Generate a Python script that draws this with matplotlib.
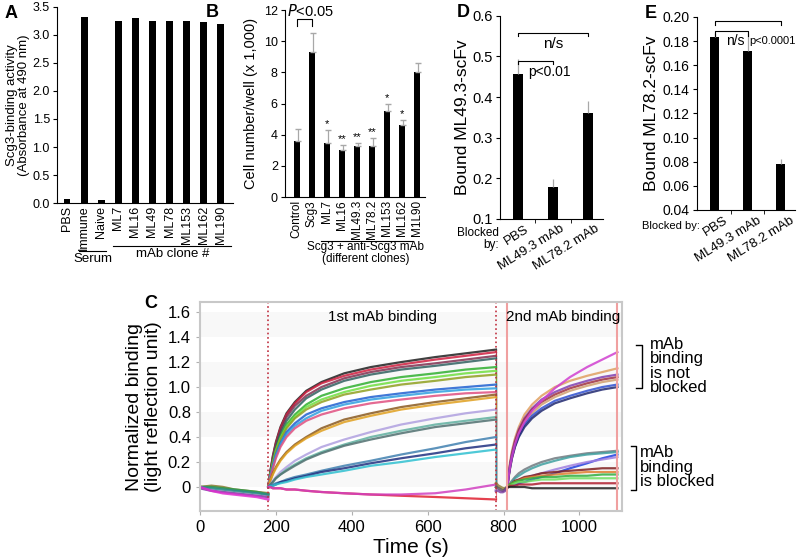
import matplotlib.pyplot as plt
import matplotlib.transforms as mtransforms
import numpy as np

plt.rcParams['font.family'] = ['Liberation Sans', 'DejaVu Sans']

# ---- panel A data
a_labels = ["PBS", "Immune", "Naive", "ML7", "ML16", "ML49", "ML78", "ML153", "ML162", "ML190"]
a_values = [0.07, 3.32, 0.05, 3.25, 3.30, 3.25, 3.25, 3.25, 3.23, 3.20]

# ---- panel B data
b_labels = ["Control", "Scg3", "ML7", "ML16", "ML49.3", "ML78.2", "ML153", "ML162", "M1L90"]
b_values = [3.6, 9.3, 3.5, 3.0, 3.3, 3.25, 5.55, 4.65, 8.0]
b_errors = [0.75, 1.25, 0.8, 0.35, 0.2, 0.55, 0.45, 0.3, 0.6]
b_stars = ["", "", "*", "**", "**", "**", "*", "*", ""]

# ---- panel D data
d_labels = ["PBS", "ML49.3 mAb", "ML78.2 mAb"]
d_values = [0.458, 0.178, 0.36]
d_errors = [0.035, 0.02, 0.03]

# ---- panel E data
e_labels = ["PBS", "ML49.3 mAb", "ML78.2 mAb"]
e_values = [0.183, 0.172, 0.078]
e_errors = [0.004, 0.015, 0.004]

# ---- panel C data (sensorgrams)
c_ticklabels = ["0", "0.2", "0.4", "0.8", "1.0", "1.2", "1.4", "1.6"]

t_base = [0, 30, 60, 90, 120, 150, 180]
base_curves = {
    "#8a7a30": [0, 0.01, 0.0, -0.02, -0.03, -0.04, -0.05],
    "#2f9a4a": [0, 0.0, -0.01, -0.02, -0.03, -0.04, -0.06],
    "#2a8a8a": [0, -0.01, -0.02, -0.03, -0.04, -0.05, -0.06],
    "#7a3aa0": [-0.01, -0.03, -0.04, -0.05, -0.06, -0.07, -0.08],
    "#e030d0": [0, -0.03, -0.05, -0.06, -0.07, -0.08, -0.10],
}

t_first = [180, 185, 192, 200, 212, 228, 250, 280, 320, 380, 450, 530, 620, 700, 780]
first_curves = {
    "#202020": [0, 0.12, 0.25, 0.36, 0.48, 0.59, 0.68, 0.77, 0.84, 0.91, 0.96, 1.00, 1.04, 1.07, 1.10],
    "#d02040": [0, 0.11, 0.24, 0.35, 0.47, 0.58, 0.67, 0.76, 0.83, 0.89, 0.94, 0.98, 1.02, 1.05, 1.08],
    "#803050": [0, 0.11, 0.23, 0.34, 0.45, 0.56, 0.65, 0.73, 0.80, 0.87, 0.92, 0.96, 0.99, 1.02, 1.05],
    "#306060": [0, 0.10, 0.22, 0.32, 0.43, 0.53, 0.62, 0.71, 0.78, 0.85, 0.90, 0.94, 0.97, 1.00, 1.03],
    "#30b030": [0, 0.09, 0.20, 0.30, 0.40, 0.50, 0.58, 0.66, 0.73, 0.79, 0.84, 0.88, 0.91, 0.94, 0.96],
    "#70e040": [0, 0.09, 0.19, 0.29, 0.39, 0.48, 0.56, 0.64, 0.70, 0.76, 0.81, 0.85, 0.88, 0.91, 0.93],
    "#90a020": [0, 0.09, 0.19, 0.28, 0.38, 0.47, 0.55, 0.62, 0.68, 0.74, 0.78, 0.82, 0.85, 0.88, 0.90],
    "#2060d0": [0, 0.08, 0.17, 0.26, 0.35, 0.44, 0.51, 0.58, 0.63, 0.68, 0.72, 0.75, 0.78, 0.80, 0.82],
    "#30a0e0": [0, 0.08, 0.16, 0.25, 0.34, 0.42, 0.49, 0.55, 0.61, 0.66, 0.70, 0.73, 0.76, 0.78, 0.79],
    "#e05080": [0, 0.07, 0.15, 0.23, 0.32, 0.40, 0.47, 0.53, 0.58, 0.63, 0.67, 0.70, 0.73, 0.75, 0.76],
    "#8a5a20": [0, 0.05, 0.11, 0.16, 0.22, 0.28, 0.34, 0.40, 0.47, 0.54, 0.59, 0.64, 0.68, 0.71, 0.74],
    "#e0a020": [0, 0.05, 0.10, 0.15, 0.21, 0.27, 0.33, 0.39, 0.45, 0.52, 0.57, 0.62, 0.66, 0.69, 0.72],
    "#b0a0e0": [0, 0.02, 0.05, 0.08, 0.12, 0.16, 0.21, 0.26, 0.32, 0.38, 0.44, 0.50, 0.55, 0.59, 0.62],
    "#60b0a0": [0, 0.02, 0.04, 0.07, 0.10, 0.14, 0.18, 0.23, 0.28, 0.34, 0.40, 0.45, 0.50, 0.53, 0.56],
    "#507070": [0, 0.02, 0.04, 0.07, 0.10, 0.13, 0.17, 0.22, 0.27, 0.33, 0.38, 0.43, 0.48, 0.51, 0.54],
    "#4080b0": [0, 0.01, 0.02, 0.03, 0.04, 0.06, 0.08, 0.10, 0.13, 0.17, 0.21, 0.26, 0.31, 0.36, 0.40],
    "#203080": [0, 0.01, 0.01, 0.02, 0.04, 0.05, 0.07, 0.09, 0.12, 0.15, 0.19, 0.23, 0.27, 0.31, 0.34],
    "#30c0d0": [0, 0.01, 0.01, 0.02, 0.03, 0.04, 0.06, 0.08, 0.10, 0.13, 0.17, 0.20, 0.24, 0.27, 0.30],
    "#e02030": [0, 0.0, -0.01, -0.01, -0.01, -0.02, -0.02, -0.03, -0.04, -0.05, -0.06, -0.07, -0.08, -0.09, -0.10],
    "#d040c0": [0, 0.0, -0.01, -0.01, -0.01, -0.02, -0.02, -0.03, -0.04, -0.05, -0.06, -0.06, -0.05, -0.02, 0.02],
}

t_wash = [780, 786, 792, 798, 804, 810]
wash_curves = {
    "#8a7a30": [0.03, 0.01, 0.0, -0.01, -0.01, 0.0],
    "#505050": [0.0, -0.01, -0.02, -0.03, -0.02, 0.0],
    "#7a3aa0": [-0.03, -0.03, -0.04, -0.04, -0.03, 0.0],
}

t_second = [810, 813, 817, 822, 830, 840, 855, 875, 900, 935, 975, 1020, 1060, 1100]
second_curves = {
    "#e0a060": [0, 0.10, 0.20, 0.29, 0.39, 0.48, 0.58, 0.66, 0.73, 0.80, 0.85, 0.89, 0.92, 0.95],
    "#8040b0": [0, 0.09, 0.18, 0.27, 0.37, 0.46, 0.55, 0.63, 0.70, 0.76, 0.81, 0.85, 0.88, 0.90],
    "#a03040": [0, 0.09, 0.18, 0.26, 0.36, 0.45, 0.54, 0.62, 0.68, 0.74, 0.79, 0.83, 0.86, 0.88],
    "#d0a070": [0, 0.07, 0.15, 0.23, 0.33, 0.42, 0.51, 0.59, 0.66, 0.72, 0.77, 0.81, 0.84, 0.86],
    "#3050d0": [0, 0.08, 0.16, 0.24, 0.33, 0.41, 0.50, 0.57, 0.63, 0.69, 0.73, 0.77, 0.80, 0.82],
    "#202870": [0, 0.08, 0.15, 0.23, 0.32, 0.40, 0.48, 0.55, 0.61, 0.67, 0.71, 0.75, 0.78, 0.80],
    "#d040d0": [0, 0.08, 0.16, 0.24, 0.34, 0.43, 0.52, 0.61, 0.69, 0.79, 0.88, 0.96, 1.02, 1.08],
    "#707a80": [0, 0.01, 0.03, 0.05, 0.08, 0.11, 0.14, 0.17, 0.20, 0.23, 0.25, 0.27, 0.28, 0.29],
    "#40a0a0": [0, 0.01, 0.02, 0.04, 0.07, 0.09, 0.12, 0.15, 0.18, 0.21, 0.24, 0.26, 0.27, 0.28],
    "#2040e0": [0, 0.0, 0.01, 0.01, 0.02, 0.03, 0.04, 0.06, 0.08, 0.11, 0.15, 0.19, 0.23, 0.26],
    "#a080e0": [0, 0.01, 0.01, 0.02, 0.03, 0.05, 0.07, 0.09, 0.11, 0.14, 0.17, 0.20, 0.22, 0.24],
    "#802020": [0, 0.01, 0.02, 0.03, 0.05, 0.06, 0.08, 0.09, 0.11, 0.12, 0.13, 0.14, 0.15, 0.15],
    "#e08030": [0, 0.01, 0.02, 0.03, 0.04, 0.05, 0.07, 0.08, 0.09, 0.10, 0.11, 0.12, 0.12, 0.12],
    "#30b040": [0, 0.01, 0.02, 0.03, 0.04, 0.05, 0.06, 0.07, 0.08, 0.08, 0.09, 0.09, 0.10, 0.10],
    "#70e060": [0, 0.01, 0.01, 0.02, 0.03, 0.04, 0.04, 0.05, 0.06, 0.06, 0.07, 0.07, 0.07, 0.07],
    "#b02030": [0, 0.0, 0.01, 0.01, 0.01, 0.02, 0.02, 0.02, 0.03, 0.03, 0.03, 0.03, 0.03, 0.03],
    "#202020": [0, 0.0, 0.0, 0.0, 0.0, 0.0, 0.0, -0.01, -0.01, -0.01, -0.01, -0.01, -0.01, -0.01],
}

fig = plt.figure(figsize=(8, 5.57), dpi=100)


def clean(ax, size=9.5):
    ax.spines["top"].set_visible(False)
    ax.spines["right"].set_visible(False)
    ax.tick_params(axis="y", length=3, labelsize=size, pad=2)


# ================= A
axA = fig.add_axes([0.071, 0.6355, 0.22, 0.352])
xA = np.arange(len(a_labels))
axA.bar(xA, a_values, width=0.4, color="black")
axA.set_xlim(-0.6, 9.7)
axA.set_ylim(0, 3.5)
axA.set_yticks(np.arange(0, 3.51, 0.5))
axA.set_yticklabels([f"{v:.1f}" for v in np.arange(0, 3.51, 0.5)])
axA.set_xticks(xA)
axA.set_xticklabels(a_labels, rotation=90, fontsize=9)
axA.tick_params(axis="x", length=0, pad=2)
clean(axA, 9)
axA.set_ylabel("Scg3-binding activity\n(Absorbance at 490 nm)", fontsize=9.5, labelpad=2,
               linespacing=1.0)
trA = axA.get_xaxis_transform()
axA.plot([0.7, 2.3], [-0.245, -0.245], color="black", lw=0.8, transform=trA, clip_on=False)
axA.text(1.5, -0.285, "Serum", ha="center", va="center", fontsize=9.5, transform=trA)
axA.plot([2.7, 9.6], [-0.218, -0.218], color="black", lw=0.8, transform=trA, clip_on=False)
axA.text(6.2, -0.26, "mAb clone #", ha="center", va="center", fontsize=9.5, transform=trA)
fig.text(0.006, 0.975, "A", fontsize=13, fontweight="bold", va="center")

# ================= B
axB = fig.add_axes([0.356, 0.646, 0.175, 0.336])
xB = np.arange(len(b_labels))
axB.bar(xB, b_values, width=0.4, color="black")
axB.errorbar(xB + 0.08, b_values, yerr=[np.zeros(len(b_errors)), b_errors], fmt="none",
             ecolor="#a8a8a8", elinewidth=0.9, capsize=2)
for x, v, e, s in zip(xB, b_values, b_errors, b_stars):
    if s:
        axB.text(x, v + e + 0.05, s, ha="center", va="bottom", fontsize=8)
axB.set_xlim(-0.78, 8.5)
axB.set_ylim(0, 12)
axB.set_yticks(range(0, 13, 2))
axB.set_xticks(xB)
axB.set_xticklabels(b_labels, rotation=90, fontsize=8.5)
axB.tick_params(axis="x", length=0, pad=2)
clean(axB, 9)
axB.set_ylabel("Cell number/well (x 1,000)", fontsize=10.5, labelpad=4)
axB.plot([0, 0, 1, 1], [11.0, 11.4, 11.4, 11.0], color="black", lw=0.8, clip_on=False)
axB.text(0.9, 11.45, "$P$<0.05", ha="center", va="bottom", fontsize=10.5)
trB = axB.get_xaxis_transform()
axB.plot([1.6, 7.7], [-0.235, -0.235], color="black", lw=0.8, transform=trB, clip_on=False)
axB.text(4.6, -0.30, "Scg3 + anti-Scg3 mAb\n(different clones)", ha="center", va="center",
         fontsize=8.5, linespacing=1.0, transform=trB)
fig.text(0.257, 0.977, "B", fontsize=13, fontweight="bold", va="center")


def small_panel(ax, labels, values, errors, shift):
    x = np.arange(len(labels))
    ax.bar(x, values, width=0.27, color="black")
    ax.errorbar(x, values, yerr=[np.zeros(len(errors)), errors], fmt="none",
                ecolor="#a8a8a8", elinewidth=0.9, capsize=0)
    ax.set_xticks(x)
    ax.set_xticklabels(labels, rotation=32, ha="right", rotation_mode="anchor", fontsize=9.5)
    ax.tick_params(axis="x", length=0, pad=3)
    off = mtransforms.ScaledTranslation(shift / 100, 0, fig.dpi_scale_trans)
    for lab in ax.get_xticklabels():
        lab.set_transform(lab.get_transform() + off)
    ax.set_xticks([0.5, 1.5, 2.5], minor=True)
    ax.tick_params(axis="x", which="minor", length=3, direction="out")
    clean(ax, 10.5)
    return x


# ================= D
axD = fig.add_axes([0.625, 0.607, 0.129, 0.3645])
small_panel(axD, d_labels, d_values, d_errors, 7)
axD.set_xlim(-0.51, 2.43)
axD.set_ylim(0.1, 0.6)
axD.set_yticks([0.1, 0.2, 0.3, 0.4, 0.5, 0.6])
axD.set_ylabel("Bound ML49.3-scFv", fontsize=12.5, labelpad=2)
axD.plot([0, 0, 2, 2], [0.55, 0.558, 0.558, 0.55], color="black", lw=0.8)
axD.text(1, 0.548, "n/s", ha="center", va="top", fontsize=11)
axD.plot([0, 0, 1, 1], [0.481, 0.489, 0.489, 0.481], color="black", lw=0.8)
axD.text(0.28, 0.462, "p<0.01", ha="left", va="center", fontsize=10)
axD.text(-0.53, 0.081, "Blocked\nby:", ha="right", va="top", fontsize=8.5, linespacing=1.05)
fig.text(0.571, 0.977, "D", fontsize=13, fontweight="bold", va="center")

# ================= E
axE = fig.add_axes([0.871, 0.623, 0.1225, 0.3465])
small_panel(axE, e_labels, e_values, e_errors, 9)
axE.set_xlim(-0.55, 2.42)
axE.set_ylim(0.04, 0.20)
axE.set_yticks(np.arange(0.04, 0.201, 0.02))
axE.set_yticklabels([f"{v:.2f}" for v in np.arange(0.04, 0.201, 0.02)])
axE.tick_params(axis="y", labelsize=10)
axE.set_ylabel("Bound ML78.2-scFv", fontsize=12.5, labelpad=3)
axE.plot([0, 0, 2, 2], [0.193, 0.197, 0.197, 0.193], color="black", lw=0.8)
axE.plot([0, 0, 1, 1], [0.184, 0.188, 0.188, 0.184], color="black", lw=0.8)
axE.text(0.62, 0.180, "n/s", ha="center", va="center", fontsize=10)
axE.text(1.75, 0.180, "p<0.0001", ha="center", va="center", fontsize=8)
axE.text(-0.45, 0.031, "Blocked by:", ha="right", va="top", fontsize=8)
fig.text(0.806, 0.975, "E", fontsize=13, fontweight="bold", va="center")

# ================= C
axC = fig.add_axes([0.25, 0.0826, 0.5275, 0.375])
for lo, hi in [(1.2, 1.4), (0.8, 1.0), (0.4, 0.6), (0.0, 0.2)]:
    axC.axhspan(lo, hi, color="#f8f8f8", zorder=0, lw=0)
for c, v in base_curves.items():
    axC.plot(t_base, v, color=c, lw=1.8, alpha=0.85)
for c, v in first_curves.items():
    axC.plot(t_first, v, color=c, lw=1.6, alpha=0.85)
    axC.plot([t_first[-1], t_first[-1]], [v[-1], 0.0], color=c, lw=0.8, alpha=0.6)
for c, v in wash_curves.items():
    axC.plot(t_wash, v, color=c, lw=2.0, alpha=0.8)
for c, v in second_curves.items():
    axC.plot(t_second, v, color=c, lw=1.6, alpha=0.85)
axC.axvline(180, color="#c03040", ls=":", lw=1.2)
axC.axvline(780, color="#c03040", ls=":", lw=1.2)
axC.axvline(810, color="#f0a0a0", lw=1.5)
axC.axvline(1100, color="#f0a0a0", lw=1.5)
axC.set_xlim(0, 1112)
axC.set_ylim(-0.192, 1.48)
axC.set_yticks(np.arange(0, 1.41, 0.2))
axC.set_yticklabels(c_ticklabels)
axC.set_xticks([0, 200, 400, 600, 800, 1000])
axC.tick_params(labelsize=12, color="#b0b0b0", length=3)
for sp in axC.spines.values():
    sp.set_color("#c8c8c8")
    sp.set_linewidth(1.5)
axC.text(480, 1.36, "1st mAb binding", ha="center", va="center", fontsize=11)
axC.text(958, 1.36, "2nd mAb binding", ha="center", va="center", fontsize=11)
axC.set_xlabel("Time (s)", fontsize=15, labelpad=2)
axC.set_ylabel("Normalized binding\n(light reflection unit)", fontsize=14, labelpad=4)
axC.plot([1150, 1165, 1165, 1150], [1.14, 1.14, 0.79, 0.79], color="black", lw=1.0, clip_on=False)
axC.text(1185, 0.97, "mAb\nbinding\nis not\nblocked", ha="left", va="center", fontsize=12,
         linespacing=0.95)
axC.plot([1135, 1150, 1150, 1135], [0.33, 0.33, -0.02, -0.02], color="black", lw=1.0, clip_on=False)
axC.text(1160, 0.16, "mAb\nbinding\nis blocked", ha="left", va="center", fontsize=12,
         linespacing=0.95)
fig.text(0.18, 0.455, "C", fontsize=13, fontweight="bold", va="center")

fig.savefig("out.png", dpi=100)
